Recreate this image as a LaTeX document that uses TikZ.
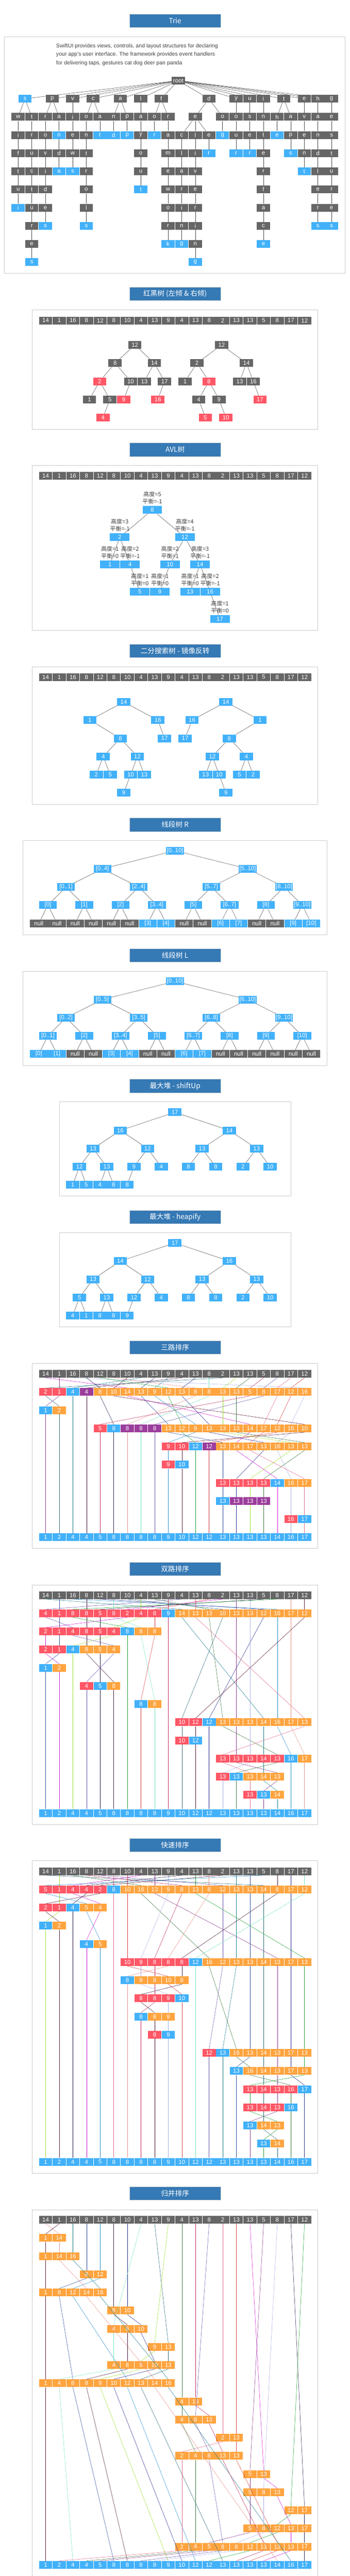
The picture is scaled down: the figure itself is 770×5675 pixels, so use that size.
\documentclass[tikz,border=0pt]{standalone}
\usepackage{fontspec}
\setmainfont{Liberation Sans}
\newfontfamily\cjk{Noto Sans CJK SC}
\usetikzlibrary{backgrounds}

\definecolor{boxgray}{HTML}{666666}
\definecolor{boxblue}{HTML}{42B1F9}
\definecolor{boxred}{HTML}{FF5766}
\definecolor{boxorange}{HTML}{FFA43F}
\definecolor{boxpurple}{HTML}{9B3D9C}
\definecolor{titleblue}{HTML}{3579B5}
\definecolor{ln0}{HTML}{D21DD2}
\definecolor{ln1}{HTML}{8A3B8F}
\definecolor{ln2}{HTML}{A9B3E6}
\definecolor{ln3}{HTML}{2E2452}
\definecolor{ln4}{HTML}{21A336}
\definecolor{ln5}{HTML}{E8918A}
\definecolor{ln6}{HTML}{5C1A3A}
\definecolor{ln7}{HTML}{1F7F8F}
\definecolor{ln8}{HTML}{2F4F9F}
\definecolor{ln9}{HTML}{2B93D0}
\definecolor{ln10}{HTML}{4C1E40}
\definecolor{ln11}{HTML}{2D3090}
\definecolor{ln12}{HTML}{77E3C3}
\definecolor{ln13}{HTML}{2E6B7A}
\definecolor{ln14}{HTML}{9ADF2E}
\definecolor{ln15}{HTML}{3E7A3E}
\definecolor{ln16}{HTML}{C03060}
\definecolor{ln17}{HTML}{6F5AB0}
\definecolor{ln18}{HTML}{E06C8A}
\definecolor{ln19}{HTML}{D94040}

\tikzset{
  box/.style={minimum width=29pt,minimum height=17pt,inner sep=0pt,text=white,font=\fontsize{13}{13}\selectfont},
  cg/.style={box,fill=boxgray},
  cb/.style={box,fill=boxblue},
  cr/.style={box,fill=boxred},
  co/.style={box,fill=boxorange},
  cp/.style={box,fill=boxpurple},
  ttl/.style={fill=titleblue,draw=black!15,minimum width=201pt,minimum height=30pt,inner sep=0pt,text=white,font=\cjk\fontsize{15.5}{16}\selectfont},
  frm/.style={draw=black!20,line width=0.8pt},
  link/.style={draw=black!70,line width=0.6pt},
  mv/.style={line width=0.6pt},
  desc/.style={anchor=base west,inner sep=0pt,text=black!75,font=\fontsize{12}{14}\selectfont},
  avlnote/.style={inner sep=0pt,text=black!75,font=\cjk\fontsize{12.5}{13}\selectfont},
}

% one row of cells of a sorting picture
\newcommand\sortrow[4]{%
  \foreach \vv/\kd [count=\cc from #3] in {#4}
    \node[\kd] (#1-#2-\cc) at ({100.5+30*\cc},{\rowbase+40*#2}) {\vv};}
\newcommand\inputrow[1]{\sortrow{#1}{0}{0}{14/cg,1/cg,16/cg,8/cg,12/cg,8/cg,10/cg,4/cg,13/cg,9/cg,4/cg,13/cg,8/cg,2/cg,13/cg,13/cg,5/cg,8/cg,17/cg,12/cg}}
\newcommand\finalrow[2]{\sortrow{#1}{#2}{0}{1/cb,2/cb,4/cb,4/cb,5/cb,8/cb,8/cb,8/cb,8/cb,9/cb,10/cb,12/cb,12/cb,13/cb,13/cb,13/cb,13/cb,14/cb,16/cb,17/cb}}
% path of one element through the rows
\newcommand\trail[3]{%
  \global\let\trailprev\relax
  \foreach \kk/\cc in {#3}{%
    \ifx\trailprev\relax\else
      \draw[mv,#2] (#1-\trailprev.south) -- (#1-\kk-\cc.north);
    \fi
    \xdef\trailprev{\kk-\cc}}}
% straight run of trie letters under a parent
\newcommand\tchain[5]{%
  \foreach \ch/\kd [count=\i] in {#5}{%
    \node[\kd] (#2\i) at ({40+30*#3},{177.5+40*(#4+\i-1)}) {\ch};
    \pgfmathtruncatemacro\tup{\i-1}
    \ifnum\i=1 \def\tfrom{#1}\else \edef\tfrom{#2\tup}\fi
    \begin{scope}[on background layer]\draw[link] (\tfrom) -- (#2\i);\end{scope}
  }}
\newcommand\avlnode[5]{%
  \node[cb,minimum width=43pt] (av#1) at (#2,#3) {#1};
  \node[avlnote] at (#2,#3-34.5) {高度=#4};
  \node[avlnote] at (#2,#3-18.5) {平衡=#5};}

\begin{document}
\begin{tikzpicture}[x=1pt,y=-1pt]
\useasboundingbox (0,0) rectangle (770,5675);

% Trie
\node[ttl] (hdtrie) at (385.5,45.5) {Trie};
\draw[frm] (10,80.5) rectangle (760,602);
\node[desc] at (123.5,105.5) {SwiftUI provides views, controls, and layout structures for declaring};
\node[desc] at (123.5,123.5) {your app's user interface. The framework provides event handlers};
\node[desc] at (123.5,142) {for delivering taps, gestures cat dog deer pan panda};
\node[cg] (troot) at (392.5,177.5) {root};
\foreach \ch/\cl/\kd in {s/0.5/cb,p/2.5/cg,v/4/cg,c/5.5/cg,a/7.5/cg,l/9/cg,f/10.5/cg,d/14/cg,y/16/cg,u/17/cg,i/18/cg,t/19.5/cg,e/21/cg,h/22/cg,g/23/cg}{
  \node[\kd] (t\ch) at ({40+30*\cl},217.5) {\ch};
  \begin{scope}[on background layer]\draw[link] (troot) -- (t\ch);\end{scope}
}
\tchain{ts}{tsw}{0}{2}{w/cg,i/cg,f/cg,t/cg,u/cg,i/cb}
\tchain{ts}{tst}{1}{2}{t/cg,r/cg,u/cg,c/cg,t/cg,u/cg,r/cg,e/cg,s/cb}
\tchain{tp}{tpr}{2}{2}{r/cg,o/cg,v/cg,i/cg,d/cg,e/cg,s/cb}
\tchain{tp}{tpa}{3}{2}{a/cg,n/cb,d/cg,a/cb}
\tchain{tv}{tvi}{4}{2}{i/cg,e/cg,w/cg,s/cb}
\tchain{tc}{tco}{5}{2}{o/cg,n/cg,t/cg,r/cg,o/cg,l/cg,s/cb}
\tchain{tc}{tca}{6}{2}{a/cg,t/cb}
\tchain{ta}{tan}{7}{2}{n/cg,d/cb}
\tchain{ta}{tap}{8}{2}{p/cg,p/cb}
\tchain{tl}{tla}{9}{2}{a/cg,y/cg,o/cg,u/cg,t/cb}
\tchain{tf}{tfo}{10}{2}{o/cg,r/cb}
\tchain{tf}{tfr}{11}{2}{r/cg,a/cg,m/cg,e/cg,w/cg,o/cg,r/cg,k/cb}
\node[cg] (tde) at (430,257.5) {e};
\begin{scope}[on background layer]\draw[link] (td) -- (tde);\end{scope}
\tchain{tde}{tdec}{12}{3}{c/cg,l/cg,a/cg,r/cg,i/cg,n/cg,g/cb}
\tchain{tde}{tdel}{13}{3}{l/cg,i/cg,v/cg,e/cg,r/cg,i/cg,n/cg,g/cb}
\tchain{tde}{tdee}{14}{3}{e/cg,r/cb}
\tchain{td}{tdo}{15}{2}{o/cg,g/cb}
\tchain{ty}{tyo}{16}{2}{o/cg,u/cg,r/cb}
\tchain{tu}{tus}{17}{2}{s/cg,e/cg,r/cb}
\tchain{ti}{tin}{18}{2}{n/cg,t/cg,e/cg,r/cg,f/cg,a/cg,c/cg,e/cb}
\tchain{tt}{tth}{19}{2}{h/cg,e/cb}
\tchain{tt}{tta}{20}{2}{a/cg,p/cg,s/cb}
\tchain{te}{tev}{21}{2}{v/cg,e/cg,n/cg,t/cb}
\tchain{th}{tha}{22}{2}{a/cg,n/cg,d/cg,l/cg,e/cg,r/cg,s/cb}
\tchain{tg}{tge}{23}{2}{e/cg,s/cg,t/cg,u/cg,r/cg,e/cg,s/cb}

% red-black trees
\node[ttl] (hdrb) at (385.5,647) {红黑树 (左倾 \& 右倾)};
\draw[frm] (71,682) rectangle (700,945.5);
\def\rowbase{706}
\inputrow{rba}
\node[cg] (rl12) at (297,760) {12};
\node[cg] (rl8) at (253.4,800) {8};
\node[cg] (rl14) at (339.8,800) {14};
\node[cr] (rl2) at (219.5,840) {2};
\node[cg] (rl10) at (287.7,840) {10};
\node[cg] (rl13) at (317.7,840) {13};
\node[cg] (rl17) at (362.3,840) {17};
\node[cg] (rl1) at (196.9,880) {1};
\node[cg] (rl5) at (242,880) {5};
\node[cr] (rl9) at (272.5,880) {9};
\node[cr] (rl16) at (347.6,880) {16};
\node[cr] (rl4) at (226.8,920) {4};
\node[cg] (rr12) at (488,760) {12};
\node[cg] (rr2) at (433.6,800) {2};
\node[cg] (rr14) at (542.6,800) {14};
\node[cg] (rr1) at (407.5,840) {1};
\node[cr] (rr8) at (460,840) {8};
\node[cg] (rr13) at (527.8,840) {13};
\node[cg] (rr16) at (557.8,840) {16};
\node[cg] (rr4) at (437.5,880) {4};
\node[cg] (rr9) at (482.2,880) {9};
\node[cr] (rr17) at (572.6,880) {17};
\node[cr] (rr5) at (452.2,920) {5};
\node[cr] (rr10) at (497.4,920) {10};
\begin{scope}[on background layer]
\foreach \pp/\qq in {rl12/rl8,rl12/rl14,rl8/rl2,rl8/rl10,rl2/rl1,rl2/rl5,rl5/rl4,rl10/rl9,rl14/rl13,rl14/rl17,rl17/rl16,
  rr12/rr2,rr12/rr14,rr2/rr1,rr2/rr8,rr8/rr4,rr8/rr9,rr4/rr5,rr9/rr10,rr14/rr13,rr14/rr16,rr16/rr17}
  \draw[link] (\pp) -- (\qq);
\end{scope}

% AVL
\node[ttl] (hdavl) at (385.5,990.5) {AVL树};
\draw[frm] (71,1025.7) rectangle (700,1388);
\def\rowbase{1048.2}
\inputrow{avla}
\avlnode{8}{335.4}{1123.5}{5}{-1}
\avlnode{2}{263.7}{1183.5}{3}{-1}
\avlnode{12}{407}{1183.5}{4}{-1}
\avlnode{1}{242}{1243.5}{1}{0}
\avlnode{4}{286.3}{1243.5}{2}{-1}
\avlnode{10}{374.2}{1243.5}{2}{1}
\avlnode{14}{440.5}{1243.5}{3}{-1}
\avlnode{5}{307.9}{1303.5}{1}{0}
\avlnode{9}{352}{1303.5}{1}{0}
\avlnode{13}{418.4}{1303.5}{1}{0}
\avlnode{16}{462.6}{1303.5}{2}{-1}
\avlnode{17}{484.2}{1363.5}{1}{0}
\begin{scope}[on background layer]
\foreach \pp/\qq in {av8/av2,av8/av12,av2/av1,av2/av4,av4/av5,av12/av10,av12/av14,av10/av9,av14/av13,av14/av16,av16/av17}
  \draw[link] (\pp) -- (\qq);
\end{scope}

% binary search tree and its mirror
\node[ttl] (hdbst) at (385.5,1433.7) {二分搜索树 - 镜像反转};
\draw[frm] (71,1469) rectangle (700,1771.6);
\def\rowbase{1491.5}
\inputrow{bsta}
\foreach \nm/\xx/\lv in {14/272.5/0,1/197.9/1,16/347.6/1,8/265.1/2,17/362.3/2,4/227.3/3,12/302.5/3,2/212.1/4,5/242.6/4,10/287.7/4,13/317.7/4,9/272.5/5}
  \node[cb] (bl\nm) at (\xx,{1546.5+40*\lv}) {\nm};
\foreach \nm/\xx/\lv in {14/497.4/0,16/422.8/1,1/572.6/1,17/407.5/2,8/504.8/2,12/467.5/3,4/542.6/3,13/452.7/4,10/482.7/4,5/527.4/4,2/557.3/4,9/497.4/5}
  \node[cb] (br\nm) at (\xx,{1546.5+40*\lv}) {\nm};
\begin{scope}[on background layer]
\foreach \pp/\qq in {14/1,14/16,1/8,16/17,8/4,8/12,4/2,4/5,12/10,12/13,10/9}{
  \draw[link] (bl\pp) -- (bl\qq);
  \draw[link] (br\pp) -- (br\qq);}
\end{scope}

% segment tree R
\node[ttl] (hdsegr) at (385.5,1816.5) {线段树 R};
\draw[frm] (50.6,1851.6) rectangle (720.3,2059.6);
\foreach \lab/\kd [count=\i] in {{[0..10]}/cb,{[0..4]}/cb,{[5..10]}/cb,{[0..1]}/cb,{[2..4]}/cb,{[5..7]}/cb,{[8..10]}/cb,{[0]}/cb,{[1]}/cb,{[2]}/cb,{[3..4]}/cb,{[5]}/cb,{[6..7]}/cb,{[8]}/cb,{[9..10]}/cb,null/cg,null/cg,null/cg,null/cg,null/cg,null/cg,{[3]}/cb,{[4]}/cb,null/cg,null/cg,{[6]}/cb,{[7]}/cb,null/cg,null/cg,{[9]}/cb,{[10]}/cb}{
  \pgfmathtruncatemacro\lv{\i<2?0:(\i<4?1:(\i<8?2:(\i<16?3:4)))}
  \pgfmathsetmacro\sw{2^(4-\lv)}
  \node[\kd,minimum width=39pt] (sr\i) at ({85.5+40*\sw*(\i-2^\lv)+20*(\sw-1)},{1874+40*\lv}) {\lab};
}
\begin{scope}[on background layer]
\foreach \i in {2,...,31}{\pgfmathtruncatemacro\hp{\i/2}\draw[link] (sr\hp) -- (sr\i);}
\end{scope}

% segment tree L
\node[ttl] (hdsegl) at (385.5,2104.2) {线段树 L};
\draw[frm] (50.6,2139.4) rectangle (720.3,2347.5);
\foreach \lab/\kd [count=\i] in {{[0..10]}/cb,{[0..5]}/cb,{[6..10]}/cb,{[0..2]}/cb,{[3..5]}/cb,{[6..8]}/cb,{[9..10]}/cb,{[0..1]}/cb,{[2]}/cb,{[3..4]}/cb,{[5]}/cb,{[6..7]}/cb,{[8]}/cb,{[9]}/cb,{[10]}/cb,{[0]}/cb,{[1]}/cb,null/cg,null/cg,{[3]}/cb,{[4]}/cb,null/cg,null/cg,{[6]}/cb,{[7]}/cb,null/cg,null/cg,null/cg,null/cg,null/cg,null/cg}{
  \pgfmathtruncatemacro\lv{\i<2?0:(\i<4?1:(\i<8?2:(\i<16?3:4)))}
  \pgfmathsetmacro\sw{2^(4-\lv)}
  \node[\kd,minimum width=39pt] (sl\i) at ({85.5+40*\sw*(\i-2^\lv)+20*(\sw-1)},{2162+40*\lv}) {\lab};
}
\begin{scope}[on background layer]
\foreach \i in {2,...,31}{\pgfmathtruncatemacro\hp{\i/2}\draw[link] (sl\hp) -- (sl\i);}
\end{scope}

% max heap, shiftUp
\node[ttl] (hdheap) at (385.5,2392.4) {最大堆 - shiftUp};
\draw[frm] (130.6,2427.4) rectangle (640.3,2635);
\foreach \vv [count=\i] in {17,16,14,13,12,13,13,12,13,9,4,8,8,2,10,1,5,4,8,8}{
  \pgfmathtruncatemacro\lv{\i<2?0:(\i<4?1:(\i<8?2:(\i<16?3:4)))}
  \pgfmathsetmacro\sw{2^(4-\lv)}
  \node[cb] (hu\i) at ({160+30*\sw*(\i-2^\lv)+15*(\sw-1)},{2450.3+40*\lv}) {\vv};
}
\begin{scope}[on background layer]
\foreach \i in {2,...,20}{\pgfmathtruncatemacro\hp{\i/2}\draw[link] (hu\hp) -- (hu\i);}
\end{scope}

% max heap, heapify
\node[ttl] (hdheapify) at (385.5,2680.8) {最大堆 - heapify};
\draw[frm] (130.6,2715.7) rectangle (640.3,2923.3);
\foreach \vv [count=\i] in {17,14,16,13,12,13,13,5,13,12,4,8,8,2,10,4,1,8,8,9}{
  \pgfmathtruncatemacro\lv{\i<2?0:(\i<4?1:(\i<8?2:(\i<16?3:4)))}
  \pgfmathsetmacro\sw{2^(4-\lv)}
  \node[cb] (hh\i) at ({160+30*\sw*(\i-2^\lv)+15*(\sw-1)},{2738.2+40*\lv}) {\vv};
}
\begin{scope}[on background layer]
\foreach \i in {2,...,20}{\pgfmathtruncatemacro\hp{\i/2}\draw[link] (hh\hp) -- (hh\i);}
\end{scope}

% three-way quicksort
\node[ttl] (hdtri) at (385.5,2968.3) {三路排序};
\draw[frm] (71,3003.6) rectangle (700,3411);
\def\rowbase{3026.6}
\inputrow{tri}
\sortrow{tri}{1}{0}{2/cr,1/cr,4/cb,4/cp,8/co,10/co,14/co,13/co,9/co,12/co,13/co,8/co,8/co,13/co,13/co,5/co,8/co,17/co,12/co,16/co}
\sortrow{tri}{2}{0}{1/cb,2/co}
\sortrow{tri}{3}{4}{5/cr,8/cb,8/cp,8/cp,8/cp,13/co,12/co,9/co,13/co,13/co,13/co,14/co,17/co,12/co,16/co,10/co}
\sortrow{tri}{4}{9}{9/cr,10/cr,12/cb,12/cp,13/co,14/co,17/co,13/co,16/co,13/co,13/co}
\sortrow{tri}{5}{9}{9/cr,10/cb}
\sortrow{tri}{6}{13}{13/cr,13/cr,13/cr,13/cr,14/cb,16/co,17/co}
\sortrow{tri}{7}{13}{13/cb,13/cp,13/cp,13/cp}
\sortrow{tri}{8}{18}{16/cr,17/cb}
\finalrow{tri}{9}
\trail{tri}{ln0}{0/0,1/6,3/15,4/14,6/17,9/17}
\trail{tri}{ln1}{0/1,1/1,2/0,9/0}
\trail{tri}{ln2}{0/2,1/19,3/18,4/17,6/18,8/18,9/18}
\trail{tri}{ln3}{0/3,1/4,3/5,9/5}
\trail{tri}{ln4}{0/4,1/9,3/10,4/11,9/11}
\trail{tri}{ln5}{0/5,1/11,3/6,9/6}
\trail{tri}{ln6}{0/6,1/5,3/19,4/10,5/10,9/10}
\trail{tri}{ln7}{0/7,1/2,9/2}
\trail{tri}{ln8}{0/8,1/7,3/9,4/13,6/13,7/13,9/13}
\trail{tri}{ln9}{0/9,1/8,3/11,4/9,5/9,9/9}
\trail{tri}{ln10}{0/10,1/3,9/3}
\trail{tri}{ln11}{0/11,1/10,3/12,4/16,6/14,7/14,9/14}
\trail{tri}{ln12}{0/12,1/12,3/7,9/7}
\trail{tri}{ln13}{0/13,1/0,2/1,9/1}
\trail{tri}{ln14}{0/14,1/13,3/13,4/18,6/15,7/15,9/15}
\trail{tri}{ln15}{0/15,1/14,3/14,4/19,6/16,7/16,9/16}
\trail{tri}{ln16}{0/16,1/15,3/4,9/4}
\trail{tri}{ln17}{0/17,1/16,3/8,9/8}
\trail{tri}{ln18}{0/18,1/17,3/16,4/15,6/19,8/19,9/19}
\trail{tri}{ln19}{0/19,1/18,3/17,4/12,9/12}

% two-way quicksort
\node[ttl] (hdduo) at (385.5,3456.4) {双路排序};
\draw[frm] (71,3491.7) rectangle (700,4018.9);
\def\rowbase{3514.2}
\inputrow{duo}
\sortrow{duo}{1}{0}{4/cr,1/cr,8/cr,8/cr,5/cr,8/cr,2/cr,4/cr,8/cr,9/cb,14/co,13/co,13/co,10/co,13/co,13/co,12/co,16/co,17/co,12/co}
\sortrow{duo}{2}{0}{2/cr,1/cr,4/cr,8/cr,5/cr,4/cr,8/cb,8/co,8/co}
\sortrow{duo}{3}{0}{2/cr,1/cr,4/cb,8/co,5/co,4/co}
\sortrow{duo}{4}{0}{1/cb,2/co}
\sortrow{duo}{5}{3}{4/cr,5/cb,8/co}
\sortrow{duo}{6}{7}{8/cb,8/co}
\sortrow{duo}{7}{10}{10/cr,12/cr,12/cb,13/co,13/co,13/co,14/co,16/co,17/co,13/co}
\sortrow{duo}{8}{10}{10/cr,12/cb}
\sortrow{duo}{9}{13}{13/cr,13/cr,13/cr,14/cr,13/cr,16/cb,17/co}
\sortrow{duo}{10}{13}{13/cr,13/cb,13/co,14/co,13/co}
\sortrow{duo}{11}{15}{13/cr,13/cb,14/co}
\finalrow{duo}{12}
\trail{duo}{ln7}{0/0,1/10,7/16,9/16,10/16,11/17,12/17}
\trail{duo}{ln8}{0/1,1/1,2/1,3/1,4/0,12/0}
\trail{duo}{ln9}{0/2,1/17,7/17,9/18,12/18}
\trail{duo}{ln10}{0/3,1/3,2/3,3/3,5/5,12/5}
\trail{duo}{ln11}{0/4,1/16,7/12,12/12}
\trail{duo}{ln12}{0/5,1/5,2/7,6/8,12/8}
\trail{duo}{ln13}{0/6,1/13,7/10,8/10,12/10}
\trail{duo}{ln14}{0/7,1/7,2/5,3/2,12/2}
\trail{duo}{ln15}{0/8,1/12,7/13,9/17,10/14,12/14}
\trail{duo}{ln16}{0/9,1/9,12/9}
\trail{duo}{ln17}{0/10,1/0,2/2,3/5,5/3,12/3}
\trail{duo}{ln18}{0/11,1/11,7/19,9/13,10/15,11/15,12/15}
\trail{duo}{ln19}{0/12,1/8,2/8,6/7,12/7}
\trail{duo}{ln0}{0/13,1/6,2/0,3/0,4/1,12/1}
\trail{duo}{ln1}{0/14,1/14,7/14,9/14,10/17,11/16,12/16}
\trail{duo}{ln2}{0/15,1/15,7/15,9/15,10/13,12/13}
\trail{duo}{ln3}{0/16,1/4,2/4,3/4,5/4,12/4}
\trail{duo}{ln4}{0/17,1/2,2/6,12/6}
\trail{duo}{ln5}{0/18,1/18,7/18,9/19,12/19}
\trail{duo}{ln6}{0/19,1/19,7/11,8/11,12/11}

% quicksort
\node[ttl] (hdqs) at (385.5,4064.3) {快速排序};
\draw[frm] (71,4099.3) rectangle (700,4787.4);
\def\rowbase{4122.5}
\inputrow{qs}
\sortrow{qs}{1}{0}{5/cr,1/cr,4/cr,4/cr,2/cr,8/cb,10/co,16/co,13/co,9/co,8/co,13/co,8/co,12/co,13/co,13/co,14/co,8/co,17/co,12/co}
\sortrow{qs}{2}{0}{2/cr,1/cr,4/cb,5/co,4/co}
\sortrow{qs}{3}{0}{1/cb,2/co}
\sortrow{qs}{4}{3}{4/cb,5/co}
\sortrow{qs}{5}{6}{10/cr,9/cr,8/cr,8/cr,8/cr,12/cb,16/co,12/co,13/co,13/co,14/co,13/co,17/co,13/co}
\sortrow{qs}{6}{6}{8/cb,9/co,8/co,10/co,8/co}
\sortrow{qs}{7}{7}{8/cr,8/cr,9/cr,10/cb}
\sortrow{qs}{8}{7}{8/cb,8/co,9/co}
\sortrow{qs}{9}{8}{8/cr,9/cb}
\sortrow{qs}{10}{12}{12/cr,13/cb,16/co,13/co,14/co,13/co,17/co,13/co}
\sortrow{qs}{11}{14}{13/cb,16/co,14/co,13/co,17/co,13/co}
\sortrow{qs}{12}{15}{13/cr,14/cr,13/cr,16/cr,17/cb}
\sortrow{qs}{13}{15}{13/cr,14/cr,13/cr,16/cb}
\sortrow{qs}{14}{15}{13/cb,14/co,13/co}
\sortrow{qs}{15}{16}{13/cb,14/co}
\finalrow{qs}{16}
\trail{qs}{ln13}{0/0,1/16,5/16,10/16,11/16,12/16,13/16,14/16,15/17,16/17}
\trail{qs}{ln14}{0/1,1/1,2/1,3/0,16/0}
\trail{qs}{ln15}{0/2,1/7,5/12,10/14,11/15,12/18,13/18,16/18}
\trail{qs}{ln16}{0/3,1/10,5/8,6/8,7/8,8/7,16/7}
\trail{qs}{ln17}{0/4,1/13,5/13,10/12,16/12}
\trail{qs}{ln18}{0/5,1/5,16/5}
\trail{qs}{ln19}{0/6,1/6,5/6,6/9,7/10,16/10}
\trail{qs}{ln0}{0/7,1/2,2/4,4/3,16/3}
\trail{qs}{ln1}{0/8,1/8,5/17,10/17,11/17,12/17,13/17,14/15,16/15}
\trail{qs}{ln2}{0/9,1/9,5/7,6/7,7/9,8/9,9/9,16/9}
\trail{qs}{ln3}{0/10,1/3,2/2,16/2}
\trail{qs}{ln4}{0/11,1/11,5/19,10/19,11/19,12/15,13/15,14/17,15/16,16/16}
\trail{qs}{ln5}{0/12,1/12,5/9,6/6,16/6}
\trail{qs}{ln6}{0/13,1/4,2/0,3/1,16/1}
\trail{qs}{ln7}{0/14,1/14,5/14,10/13,16/13}
\trail{qs}{ln8}{0/15,1/15,5/15,10/15,11/14,16/14}
\trail{qs}{ln9}{0/16,1/0,2/3,4/4,16/4}
\trail{qs}{ln10}{0/17,1/17,5/10,6/10,7/7,8/8,9/8,16/8}
\trail{qs}{ln11}{0/18,1/18,5/18,10/18,11/18,12/19,16/19}
\trail{qs}{ln12}{0/19,1/19,5/11,16/11}

% merge sort
\node[ttl] (hdms) at (385.5,4832) {归并排序};
\draw[frm] (71,5677) -- (71,4868) -- (700,4868) -- (700,5677);
\def\rowbase{4890.3}
\inputrow{ms}
\sortrow{ms}{1}{0}{1/co,14/co}
\sortrow{ms}{2}{0}{1/co,14/co,16/co}
\sortrow{ms}{3}{3}{8/co,12/co}
\sortrow{ms}{4}{0}{1/co,8/co,12/co,14/co,16/co}
\sortrow{ms}{5}{5}{8/co,10/co}
\sortrow{ms}{6}{5}{4/co,8/co,10/co}
\sortrow{ms}{7}{8}{9/co,13/co}
\sortrow{ms}{8}{5}{4/co,8/co,9/co,10/co,13/co}
\sortrow{ms}{9}{0}{1/co,4/co,8/co,8/co,9/co,10/co,12/co,13/co,14/co,16/co}
\sortrow{ms}{10}{10}{4/co,13/co}
\sortrow{ms}{11}{10}{4/co,8/co,13/co}
\sortrow{ms}{12}{13}{2/co,13/co}
\sortrow{ms}{13}{10}{2/co,4/co,8/co,13/co,13/co}
\sortrow{ms}{14}{15}{5/co,13/co}
\sortrow{ms}{15}{15}{5/co,8/co,13/co}
\sortrow{ms}{16}{18}{12/co,17/co}
\sortrow{ms}{17}{15}{5/co,8/co,12/co,13/co,17/co}
\sortrow{ms}{18}{10}{2/co,4/co,5/co,8/co,8/co,12/co,13/co,13/co,13/co,17/co}
\finalrow{ms}{19}
\trail{ms}{ln5}{0/0,1/1,2/1,4/3,9/8,19/17}
\trail{ms}{ln6}{0/1,1/0,2/0,4/0,9/0,19/0}
\trail{ms}{ln7}{0/2,2/2,4/4,9/9,19/18}
\trail{ms}{ln8}{0/3,3/3,4/1,9/2,19/5}
\trail{ms}{ln9}{0/4,3/4,4/2,9/6,19/11}
\trail{ms}{ln10}{0/5,5/5,6/6,8/6,9/3,19/6}
\trail{ms}{ln11}{0/6,5/6,6/7,8/8,9/5,19/10}
\trail{ms}{ln12}{0/7,6/5,8/5,9/1,19/2}
\trail{ms}{ln13}{0/8,7/9,8/9,9/7,19/13}
\trail{ms}{ln14}{0/9,7/8,8/7,9/4,19/9}
\trail{ms}{ln15}{0/10,10/10,11/10,13/11,18/11,19/3}
\trail{ms}{ln16}{0/11,10/11,11/12,13/13,18/16,19/14}
\trail{ms}{ln17}{0/12,11/11,13/12,18/13,19/7}
\trail{ms}{ln18}{0/13,12/13,13/10,18/10,19/1}
\trail{ms}{ln19}{0/14,12/14,13/14,18/17,19/15}
\trail{ms}{ln0}{0/15,14/16,15/17,17/18,18/18,19/16}
\trail{ms}{ln1}{0/16,14/15,15/15,17/15,18/12,19/4}
\trail{ms}{ln2}{0/17,15/16,17/16,18/14,19/8}
\trail{ms}{ln3}{0/18,16/19,17/19,18/19,19/19}
\trail{ms}{ln4}{0/19,16/18,17/17,18/15,19/12}
\end{tikzpicture}
\end{document}
